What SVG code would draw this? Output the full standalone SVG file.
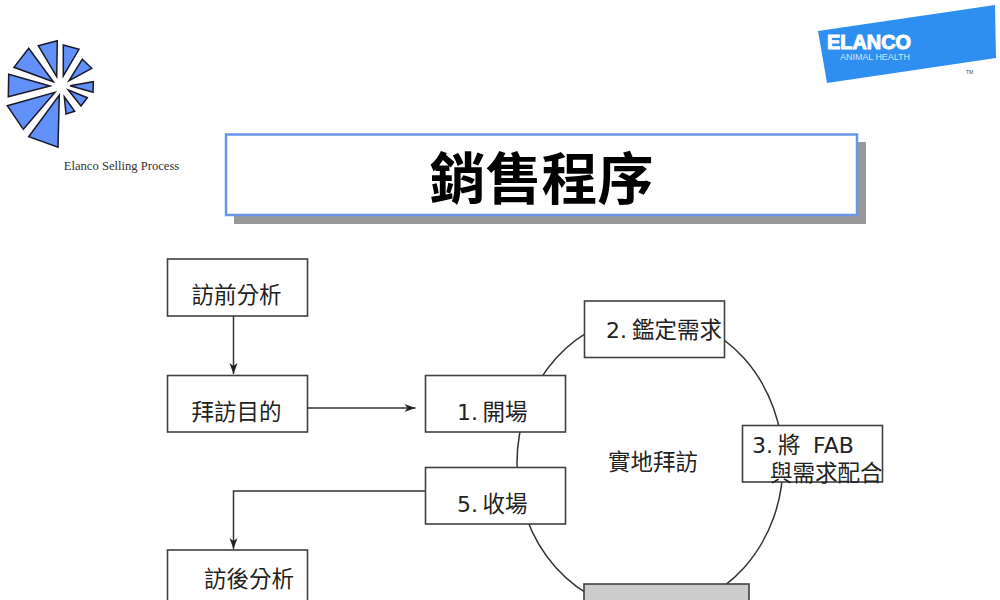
<svg xmlns="http://www.w3.org/2000/svg" width="1000" height="600" viewBox="0 0 1000 600">
<style>
.box{fill:#fff;stroke:#404040;stroke-width:1.6}
.t{font-family:"DejaVu Sans","Noto Sans CJK TC",sans-serif;font-size:22px;fill:#222}
.z{font-size:22.500px}
.w{fill:#6090f8;stroke:#1a1a2a;stroke-width:1.500;stroke-linejoin:miter}
.c{fill:none;stroke:#333;stroke-width:1.500}
</style>
<defs>
<marker id="arr" markerUnits="userSpaceOnUse" markerWidth="12" markerHeight="10" refX="11" refY="4.5" orient="auto"><path d="M0 0.5L11 4.5L0 8.5L3 4.5Z" fill="#222"/></marker>
</defs>
<g id="logo-star">
<polygon class="w" points="57.300,40.700 38.300,45.700 56.700,76.700"/>
<polygon class="w" points="63.300,45 79,49.300 63.300,76"/>
<polygon class="w" points="82.300,59.300 91.700,68.300 69,80.700"/>
<polygon class="w" points="93.300,81.700 93,92.300 70,85.700"/>
<polygon class="w" points="87.300,97.700 81,106 68.300,90"/>
<polygon class="w" points="74.700,111.300 66,114 64.300,96.700"/>
<polygon class="w" points="59.300,95 58,147.300 28.700,136.700"/>
<polygon class="w" points="55,92.300 23.300,129.300 7.300,105.700"/>
<polygon class="w" points="50,86 8.300,96.700 8.700,74.300"/>
<polygon class="w" points="53.300,81.700 14,67.300 28.700,48.300"/>
</g>
<text x="121.500" y="170" text-anchor="middle" font-family="Liberation Serif,serif" font-size="12.600" fill="#333">Elanco Selling Process</text>
<g id="logo-elanco">
<polygon points="818,31 995,5 996,58 827,83" fill="#2e8ff0"/>
<text x="827" y="48.500" font-family="Liberation Sans,sans-serif" font-weight="bold" font-size="20" fill="#fff" stroke="#fff" stroke-width="1" textLength="84" lengthAdjust="spacingAndGlyphs">ELANCO</text>
<text x="840" y="60" font-family="Liberation Sans,sans-serif" font-size="8.500" fill="#cfe4fb" textLength="70" lengthAdjust="spacingAndGlyphs">ANIMAL HEALTH</text>
<text x="966" y="74" font-family="Liberation Sans,sans-serif" font-size="5" fill="#444">TM</text>
</g>
<g id="title">
<rect x="234" y="142" width="632" height="82" fill="#999"/>
<rect x="226" y="134.500" width="631" height="80.500" fill="#fff" stroke="#6a96ea" stroke-width="2.500"/>
<text x="541.500" y="199" text-anchor="middle" font-family="Noto Sans CJK TC,sans-serif" font-weight="bold" font-size="56" fill="#000">銷售程序</text>
</g>
<g id="connectors">
<ellipse class="c" cx="650" cy="463" rx="133" ry="148"/>
<path class="c" d="M233.500 316V374" marker-end="url(#arr)"/>
<path class="c" d="M308 408H415.500" marker-end="url(#arr)"/>
<path class="c" d="M425.500 491H233.500V549" marker-end="url(#arr)"/>
</g>
<g id="n-pre"><rect class="box" x="167.500" y="259" width="140" height="57"/><text class="t z" x="191.500" y="303">訪前分析</text></g>
<g id="n-goal"><rect class="box" x="167.500" y="375.500" width="140" height="56.500"/><text class="t z" x="191.500" y="420">拜訪目的</text></g>
<g id="n-post"><rect class="box" x="167.500" y="550" width="140" height="57"/><text class="t z" x="204" y="587">訪後分析</text></g>
<g id="n-open"><rect class="box" x="425.500" y="375.500" width="140" height="56.500"/><text class="t" x="457" y="420">1.<tspan class="z" x="482.500">開場</tspan></text></g>
<g id="n-close"><rect class="box" x="425.500" y="467.500" width="140" height="56.500"/><text class="t" x="457" y="512">5.<tspan class="z" x="482.500">收場</tspan></text></g>
<g id="n-need"><rect class="box" x="584.500" y="301" width="140" height="56.500"/><text class="t" x="606" y="338">2.<tspan class="z" x="632">鑑定需求</tspan></text></g>
<g id="n-fab"><rect class="box" x="742.500" y="425.500" width="140" height="56.500"/><text class="t" x="752" y="453">3.<tspan class="z" x="778">將</tspan><tspan x="813">FAB</tspan></text><text class="t z" x="770" y="481">與需求配合</text></g>
<g id="n-grey"><rect x="584" y="584" width="165" height="40" fill="#ccc" stroke="#404040" stroke-width="1.600"/></g>
<text class="t z" x="608" y="470">實地拜訪</text>
</svg>
